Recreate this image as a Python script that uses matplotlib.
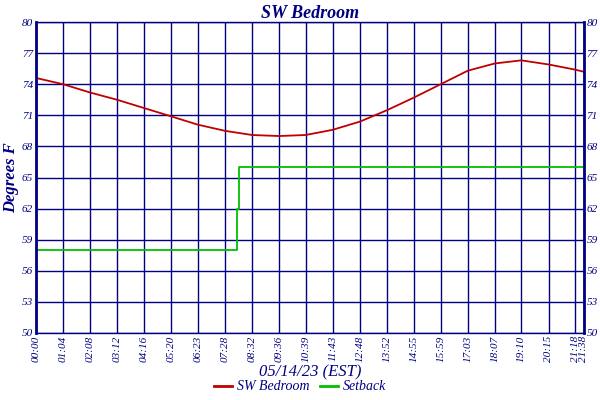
import matplotlib
matplotlib.use("Agg")
import matplotlib.pyplot as plt
import numpy as np

tick_labels = ["00:00","01:04","02:08","03:12","04:16","05:20","06:23","07:28","08:32","09:36","10:39",
               "11:43","12:48","13:52","14:55","15:59","17:03","18:07","19:10","20:15","21:18","21:38"]
tick_minutes = [int(t[:2])*60+int(t[3:]) for t in tick_labels]
temp_values = [74.6,74.0,73.2,72.5,71.7,70.9,70.1,69.5,69.1,69.0,69.1,
               69.6,70.4,71.5,72.7,74.0,75.3,76.0,76.3,75.9,75.4,75.2]
setback_minutes = [0, 476, 476, 481, 481, 1298]
setback_values = [58, 58, 62, 62, 66, 66]
yticks = [50,53,56,59,62,65,68,71,74,77,80]

navy = "#000080"
font = dict(family="Liberation Serif", style="italic", color=navy)

fig = plt.figure(figsize=(6,4), dpi=100)
ax = fig.add_axes([0.06, 0.1675, 0.913, 0.7775])
ax.plot(tick_minutes, temp_values, color="#c00000", lw=1.3)
ax.plot(setback_minutes, setback_values, color="#00c000", lw=1.3)
ax.set_xlim(0, 1298); ax.set_ylim(50, 80)
ax.set_xticks(tick_minutes); ax.set_yticks(yticks)
ax.set_xticklabels(tick_labels, rotation=90, fontsize=8, **font)
ax.set_yticklabels([str(v) for v in yticks], fontsize=8, **font)
ax.tick_params(length=0, pad=2, colors=navy, right=True, labelright=True)
for lbl in ax.get_yticklabels(which="both"):
    lbl.set_fontfamily("Liberation Serif"); lbl.set_fontstyle("italic")
ax.grid(True, color=navy, lw=1)
for s in ax.spines.values():
    s.set_color(navy); s.set_linewidth(1)
ax.spines["left"].set_linewidth(2); ax.spines["right"].set_linewidth(2)
ax.set_title("SW Bedroom", fontsize=13, pad=3, fontweight="bold", **font)
ax.set_ylabel("Degrees F", fontsize=12, labelpad=2, fontweight="bold", **font)
ax.set_xlabel("05/14/23 (EST)", fontsize=12, labelpad=2, **font)
from matplotlib.lines import Line2D
handles = [Line2D([],[],color="#c00000",lw=2), Line2D([],[],color="#00c000",lw=2)]
leg = fig.legend(handles, ["SW Bedroom","Setback"], loc="lower center", ncol=2, frameon=False,
                 bbox_to_anchor=(0.5,-0.015), prop=dict(family="Liberation Serif", style="italic", size=10),
                 handlelength=1.3, columnspacing=0.8, handletextpad=0.3)
for t in leg.get_texts(): t.set_color(navy)
fig.savefig("out.png", dpi=100)
